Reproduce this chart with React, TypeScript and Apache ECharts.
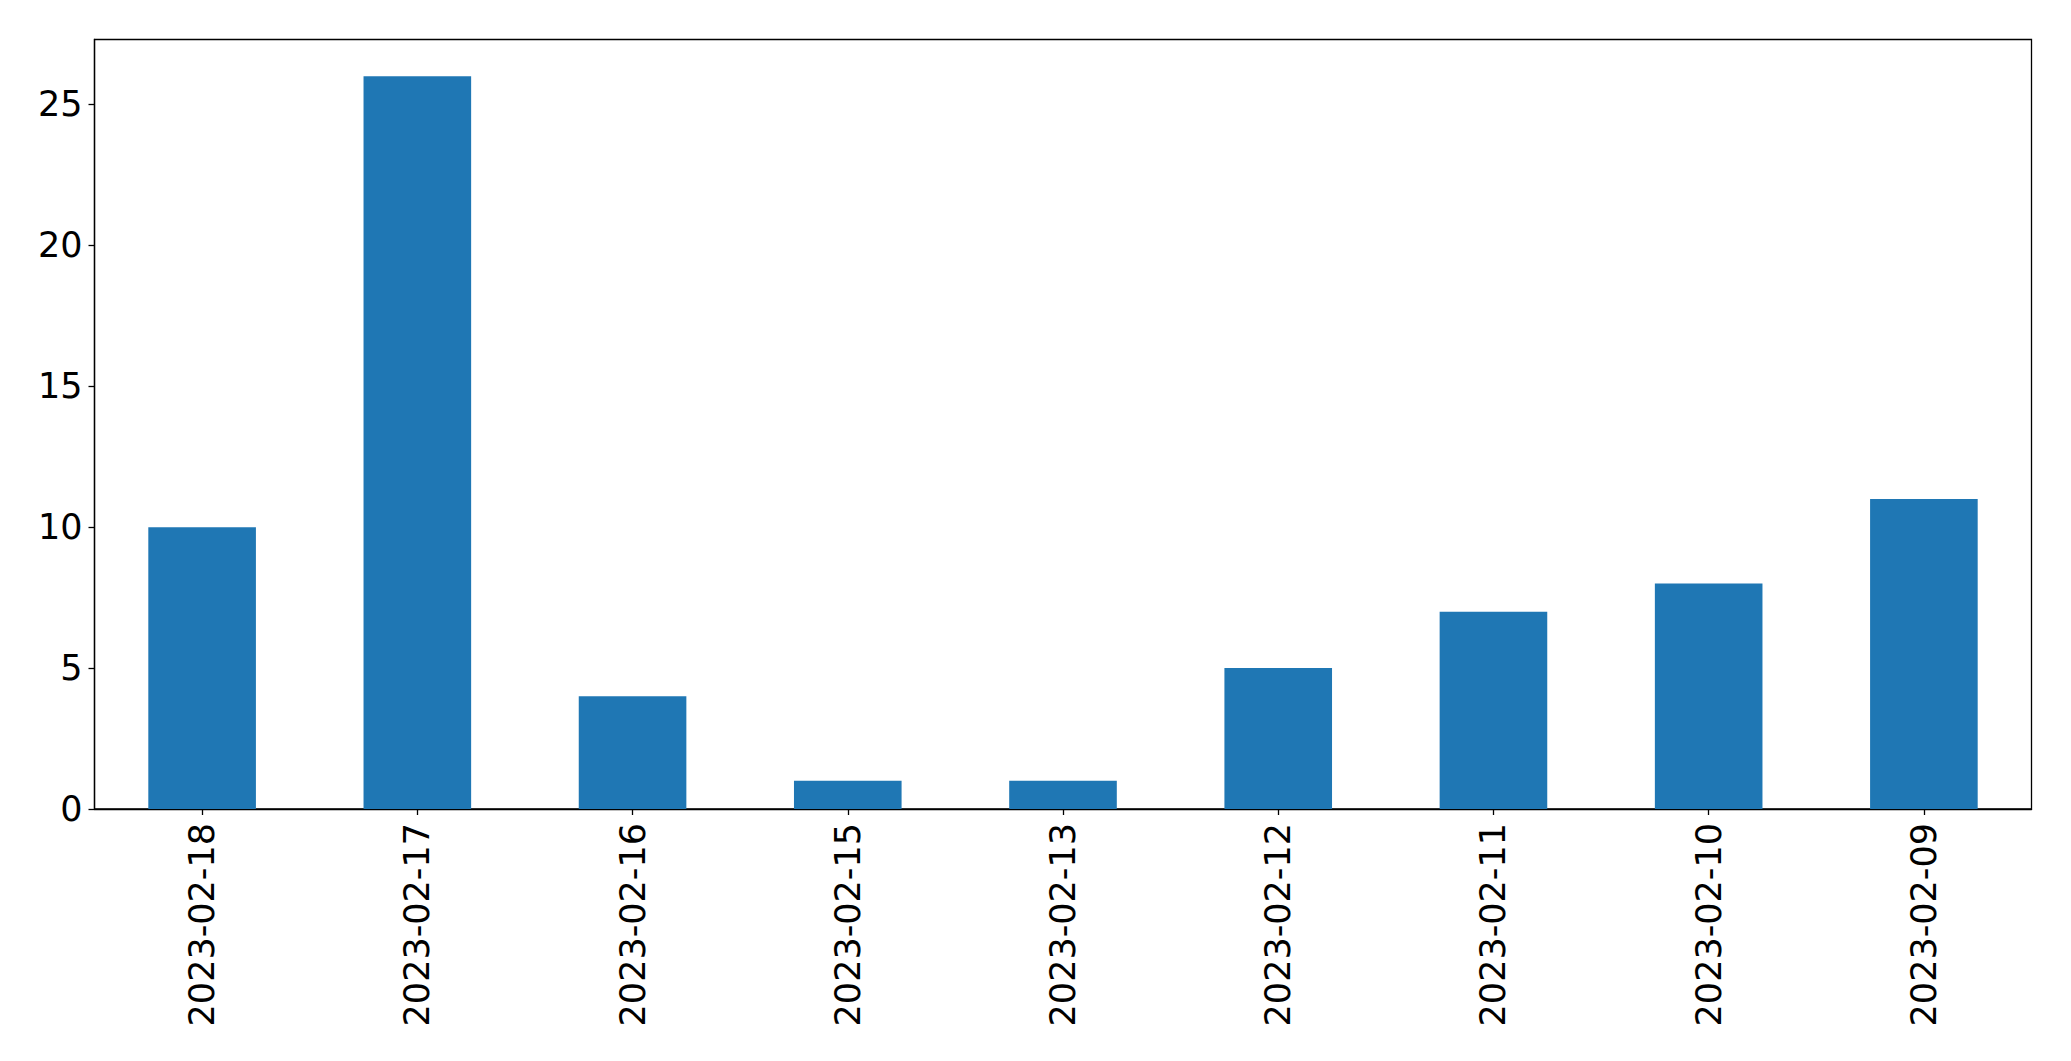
import React, { useEffect, useRef } from "react";
import * as echarts from "echarts";

const categories = ["2023-02-18", "2023-02-17", "2023-02-16", "2023-02-15", "2023-02-13", "2023-02-12", "2023-02-11", "2023-02-10", "2023-02-09"];
const values = [10, 26, 4, 1, 1, 5, 7, 8, 11];
const yTicks = [0, 5, 10, 15, 20, 25];

export default function App() {
  const ref = useRef<HTMLDivElement>(null);
  useEffect(() => {
    if (!ref.current) return;
    const chart = echarts.init(ref.current, null, { renderer: "svg" });
    const font = "DejaVu Sans";
    chart.setOption({
      animation: false,
      backgroundColor: "#ffffff",
      grid: {
        left: 94.5,
        right: 39.5,
        top: 39.5,
        bottom: 252,
        show: true,
        borderColor: "#000",
        borderWidth: 1.3,
        backgroundColor: "transparent",
      },
      xAxis: {
        type: "category",
        data: categories,
        boundaryGap: true,
        axisLine: { show: true, lineStyle: { color: "#000", width: 1.3 } },
        axisTick: { show: true, alignWithLabel: true, length: 6, lineStyle: { color: "#000", width: 1.3 } },
        axisLabel: {
          rotate: 90,
          interval: 0,
          margin: 14,
          color: "#000",
          fontFamily: font,
          fontSize: 35,
        },
      },
      yAxis: {
        type: "value",
        min: 0,
        max: 27.3,
        interval: 5,
        splitLine: { show: false },
        axisLine: { show: true, lineStyle: { color: "#000", width: 1.3 } },
        axisTick: { show: true, length: 6, lineStyle: { color: "#000", width: 1.3 } },
        axisLabel: {
          showMaxLabel: false,
          margin: 12,
          color: "#000",
          fontFamily: font,
          fontSize: 35,
          formatter: (v: number) => (yTicks.includes(v) ? String(v) : ""),
        },
      },
      series: [
        {
          type: "bar",
          data: values,
          barWidth: "50%",
          itemStyle: { color: "#1f77b4" },
        },
      ],
    });
    return () => chart.dispose();
  }, []);
  return (
    <div
      ref={ref}
      style={{ position: "fixed", left: 0, top: 0, width: 2071, height: 1061, background: "#fff" }}
    />
  );
}
